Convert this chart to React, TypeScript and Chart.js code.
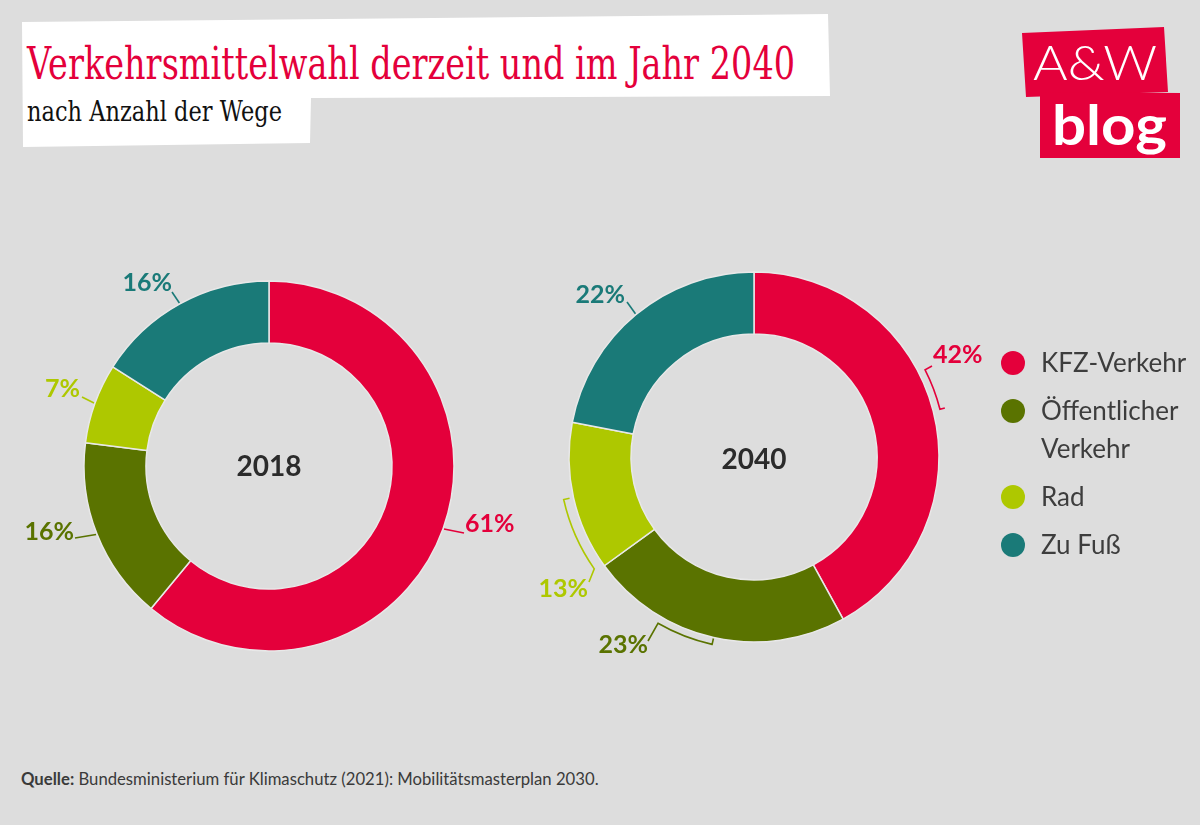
import React, { useEffect, useRef } from "react";
import { Chart, registerables } from "chart.js";

Chart.register(...registerables);

// ---------- data ----------
const categories = ["KFZ-Verkehr", "Öffentlicher Verkehr", "Rad", "Zu Fuß"];
const legendLines = [["KFZ-Verkehr"], ["Öffentlicher", "Verkehr"], ["Rad"], ["Zu Fuß"]];
const values2018 = [61, 16, 7, 16];
const values2040 = [42, 23, 13, 22];
const years = ["2018", "2040"];
const colors = ["#e4003b", "#5a7300", "#aec800", "#1a7a78"];

const title = "Verkehrsmittelwahl derzeit und im Jahr 2040";
const subtitle = "nach Anzahl der Wege";
const sourceBold = "Quelle:";
const sourceText = " Bundesministerium für Klimaschutz (2021): Mobilitätsmasterplan 2030.";

// ---------- label layout (relative to doughnut centre) ----------
type Spec = {
  bracket?: { gap: number; span: number; tickOut: boolean };
  leader: [number, number];
  text: [number, number];
  align: CanvasTextAlign;
};

const labels2018: Spec[] = [
  { leader: [195, 67], text: [196, 58], align: "left" },
  { leader: [-194, 72], text: [-195, 66], align: "right" },
  { leader: [-187, -69], text: [-189, -77], align: "right" },
  { leader: [-97, -174], text: [-97, -183], align: "right" },
];

const labels2040: Spec[] = [
  { bracket: { gap: 7, span: -12.6, tickOut: true }, leader: [178, -91], text: [179, -102], align: "left" },
  { bracket: { gap: 7, span: 17.4, tickOut: false }, leader: [-106, 184], text: [-106, 188], align: "right" },
  { bracket: { gap: 10, span: -22.4, tickOut: false }, leader: [-165, 125], text: [-166, 132], align: "right" },
  { leader: [-127, -155], text: [-129, -162], align: "right" },
];

const sliceLabelPlugin = {
  id: "sliceLabels",
  afterDatasetsDraw(chart: any, _args: any, opts: any) {
    const ctx: CanvasRenderingContext2D = chart.ctx;
    const meta = chart.getDatasetMeta(0);
    const ds = chart.data.datasets[0];
    let cx = 0;
    let cy = 0;
    meta.data.forEach((arc: any, i: number) => {
      const spec: Spec = opts.specs[i];
      const p = arc.getProps(["x", "y", "startAngle", "endAngle", "outerRadius"], true);
      cx = p.x;
      cy = p.y;
      const mid = (p.startAngle + p.endAngle) / 2;
      const color = ds.backgroundColor[i];
      ctx.save();
      ctx.strokeStyle = color;
      ctx.fillStyle = color;
      ctx.lineWidth = 1.6;
      ctx.lineJoin = "miter";
      ctx.beginPath();
      if (spec.bracket) {
        const r = p.outerRadius + spec.bracket.gap;
        const a2 = mid + (spec.bracket.span * Math.PI) / 180;
        const rt = spec.bracket.tickOut ? r + 5 : r - 6;
        ctx.moveTo(p.x + rt * Math.cos(mid), p.y + rt * Math.sin(mid));
        ctx.lineTo(p.x + r * Math.cos(mid), p.y + r * Math.sin(mid));
        ctx.arc(p.x, p.y, r, mid, a2, spec.bracket.span < 0);
        ctx.lineTo(p.x + spec.leader[0], p.y + spec.leader[1]);
      } else {
        const r = p.outerRadius + 1;
        ctx.moveTo(p.x + r * Math.cos(mid), p.y + r * Math.sin(mid));
        ctx.lineTo(p.x + spec.leader[0], p.y + spec.leader[1]);
      }
      ctx.stroke();
      ctx.font = "bold 25px Lato";
      ctx.textAlign = spec.align;
      ctx.textBaseline = "middle";
      ctx.fillText(`${ds.data[i]}%`, p.x + spec.text[0], p.y + spec.text[1]);
      ctx.restore();
    });
    ctx.save();
    ctx.font = "bold 28px Lato";
    ctx.fillStyle = "#2b2b2b";
    ctx.textAlign = "center";
    ctx.textBaseline = "middle";
    ctx.fillText(opts.center, cx, cy + (opts.centerDy || 0));
    ctx.restore();
  },
};

function Doughnut({ values, year, specs, left, top, centerDy }: any) {
  const ref = useRef<HTMLCanvasElement | null>(null);
  useEffect(() => {
    if (!ref.current) return;
    const chart = new Chart(ref.current, {
      type: "doughnut",
      data: {
        labels: categories,
        datasets: [
          {
            data: values,
            backgroundColor: colors,
            borderColor: "#e8e8e8",
            borderWidth: 1.5,
          },
        ],
      },
      options: {
        responsive: false,
        animation: false,
        radius: 185,
        cutout: "66.5%",
        layout: { padding: 0 },
        plugins: {
          legend: { display: false },
          tooltip: { enabled: false },
          sliceLabels: { specs, center: year, centerDy },
        } as any,
      },
      plugins: [sliceLabelPlugin],
    });
    return () => chart.destroy();
  }, []);
  return (
    <canvas
      ref={ref}
      width={538}
      height={520}
      style={{ position: "absolute", left, top, width: 538, height: 520 }}
    />
  );
}

export default function App() {
  return (
    <div
      style={{
        position: "fixed",
        left: 0,
        top: 0,
        width: 1200,
        height: 825,
        background: "#dddddd",
        overflow: "hidden",
        fontFamily: "Lato, sans-serif",
      }}
    >
      <svg width={1200} height={170} style={{ position: "absolute", left: 0, top: 0 }}>
        <polygon points="22,22 828,14 830,96 311,98 310,143 23,147" fill="#ffffff" />
        <text
          x={27}
          y={79}
          fill="#e4003b"
          fontFamily="'DejaVu Serif', serif"
          fontSize={44}
          textLength={768}
          lengthAdjust="spacingAndGlyphs"
        >
          {title}
        </text>
        <text
          x={27}
          y={121}
          fill="#111111"
          fontFamily="'DejaVu Serif', serif"
          fontSize={27}
          textLength={255}
          lengthAdjust="spacingAndGlyphs"
        >
          {subtitle}
        </text>
        <polygon points="1022,33 1164,27 1168,92 1026,97" fill="#e4003b" />
        <polygon points="1040,92 1180,93 1180,158 1040,158" fill="#e4003b" />
        <text
          x={1033}
          y={80}
          fill="#ffffff"
          fontFamily="Lato, sans-serif"
          fontWeight={300}
          fontSize={48}
          textLength={124}
          lengthAdjust="spacingAndGlyphs"
        >
          A&amp;W
        </text>
        <text
          x={1052}
          y={145}
          fill="#ffffff"
          fontFamily="Lato, sans-serif"
          fontWeight={700}
          fontSize={56}
          textLength={115}
          lengthAdjust="spacingAndGlyphs"
        >
          blog
        </text>
      </svg>

      <Doughnut values={values2018} year={years[0]} specs={labels2018} left={0} top={206} centerDy={1} />
      <Doughnut values={values2040} year={years[1]} specs={labels2040} left={485} top={197} centerDy={3} />

      <div style={{ position: "absolute", left: 1001, top: 343 }}>
        {legendLines.map((lines, i) => (
          <div key={categories[i]} style={{ display: "flex", alignItems: "flex-start", marginBottom: 10 }}>
            <div
              style={{
                width: 24,
                height: 24,
                borderRadius: 12,
                background: colors[i],
                marginTop: 8,
                marginRight: 16,
                flex: "none",
              }}
            />
            <div style={{ fontSize: 26, lineHeight: "38px", color: "#3d3d3d" }}>
              {lines.map((l) => (
                <div key={l}>{l}</div>
              ))}
            </div>
          </div>
        ))}
      </div>

      <div
        style={{
          position: "absolute",
          left: 21,
          top: 769,
          fontSize: 16.7,
          color: "#3a3a3a",
          whiteSpace: "nowrap",
        }}
      >
        <b>{sourceBold}</b>
        {sourceText}
      </div>
    </div>
  );
}
